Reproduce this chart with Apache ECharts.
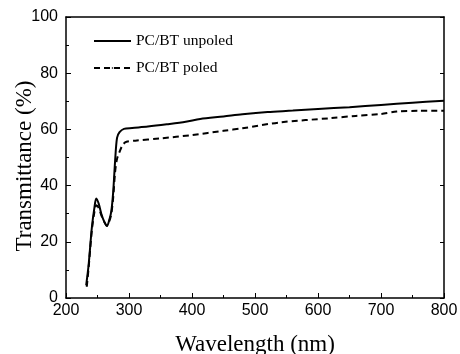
<!doctype html>
<html>
<head>
	<meta charset="utf-8">
	<title>Transmittance</title>
	<script src="https://cdn.jsdelivr.net/npm/echarts@6/dist/echarts.min.js"></script>
	<style>
		html, body { margin: 0; padding: 0; background: #fff; }
		#main { width: 460px; height: 354px; }
	</style>
</head>
<body>
<div id="main"></div>
<script>
	// unpoled film (solid)
	var unpoledWl = [232, 236, 241, 245, 248, 252, 256, 261, 265, 269, 272, 275, 278, 281, 285, 292, 305, 330, 360, 390, 413, 450, 480, 520, 560, 600, 650, 700, 750, 800]
	var unpoledT = [4.5, 12, 25, 32, 35.4, 33.5, 30, 27, 25.6, 28, 31, 38, 49, 57, 59, 60.2, 60.5, 61, 61.8, 62.7, 63.7, 64.6, 65.4, 66.2, 66.7, 67.3, 67.9, 68.7, 69.5, 70.2]
	// poled film (dashed)
	var poledWl = [233, 236, 241, 245, 248, 252, 256, 261, 265, 269, 272, 275, 278, 281, 285, 290, 296, 310, 350, 400, 450, 480, 540, 620, 660, 700, 725, 760, 800]
	var poledT = [4, 11, 24, 30.5, 33, 32, 29.5, 27, 25.8, 27.5, 30, 36, 45, 49.5, 52, 54.5, 55.6, 56, 56.8, 58, 59.5, 60.4, 62.5, 64, 64.8, 65.5, 66.4, 66.6, 66.6]
	var seriesNames = ['PC/BT unpoled', 'PC/BT poled']

	function pairs(xs, ys) {
		var out = []
		for (var i = 0; i < xs.length; i++) out.push([xs[i], ys[i]])
		return out
	}

	var tickFont = { fontFamily: 'Liberation Sans', fontSize: 16, color: '#000' }
	var myChart = echarts.init(document.getElementById('main'))
	var option = {
		animation: false,
		backgroundColor: '#fff',
		grid: { left: 66, right: 16, top: 17, bottom: 56, outerBoundsMode: 'none', containLabel: false },
		legend: {
			orient: 'vertical',
			left: 93,
			top: 33,
			padding: 0,
			itemWidth: 37,
			itemHeight: 2,
			itemGap: 11,
			data: seriesNames,
			textStyle: { fontFamily: 'Liberation Serif', fontSize: 15.5, color: '#000' }
		},
		xAxis: [{
			type: 'value', min: 200, max: 800, interval: 100,
			name: 'Wavelength (nm)', nameLocation: 'middle', nameGap: 35,
			nameTextStyle: { fontFamily: 'Liberation Serif', fontSize: 23, color: '#000' },
			axisLine: { lineStyle: { color: '#000', width: 1.5 } },
			axisTick: { inside: true, length: 5, lineStyle: { color: '#000' } },
			minorTick: { show: true, splitNumber: 2, length: 3, lineStyle: { color: '#000' } },
			axisLabel: Object.assign({ margin: 5 }, tickFont),
			splitLine: { show: false }
		}, {
			type: 'value', min: 200, max: 800, position: 'top',
			axisLine: { show: true, onZero: false, lineStyle: { color: '#000', width: 1.5 } },
			axisTick: { show: false }, axisLabel: { show: false }, splitLine: { show: false }
		}],
		yAxis: [{
			type: 'value', min: 0, max: 100, interval: 20,
			name: 'Transmittance (%)', nameLocation: 'middle', nameGap: 30, nameMoveOverlap: false,
			nameTextStyle: { fontFamily: 'Liberation Serif', fontSize: 23, color: '#000', padding: [0, 17, 0, 0] },
			axisLine: { show: true, lineStyle: { color: '#000', width: 1.5 } },
			axisTick: { show: true, inside: true, length: 5, lineStyle: { color: '#000' } },
			minorTick: { show: true, splitNumber: 2, length: 3, lineStyle: { color: '#000' } },
			axisLabel: Object.assign({ margin: 8 }, tickFont),
			splitLine: { show: false }
		}, {
			type: 'value', min: 0, max: 100, interval: 20, position: 'right',
			axisLine: { show: true, onZero: false, lineStyle: { color: '#000', width: 1.5 } },
			axisTick: { show: true, inside: true, length: 4, lineStyle: { color: '#000' } },
			axisLabel: { show: false }, splitLine: { show: false }
		}],
		series: [{
			name: seriesNames[0], type: 'line', showSymbol: false, symbol: 'none', smooth: 0.3,
			data: pairs(unpoledWl, unpoledT),
			lineStyle: { color: '#000', width: 2 }, itemStyle: { color: '#000' }
		}, {
			name: seriesNames[1], type: 'line', showSymbol: false, symbol: 'none', smooth: 0.3,
			data: pairs(poledWl, poledT),
			lineStyle: { color: '#000', width: 2, type: [6, 4] }, itemStyle: { color: '#000' }
		}]
	}
	myChart.setOption(option)
</script>
</body>
</html>
